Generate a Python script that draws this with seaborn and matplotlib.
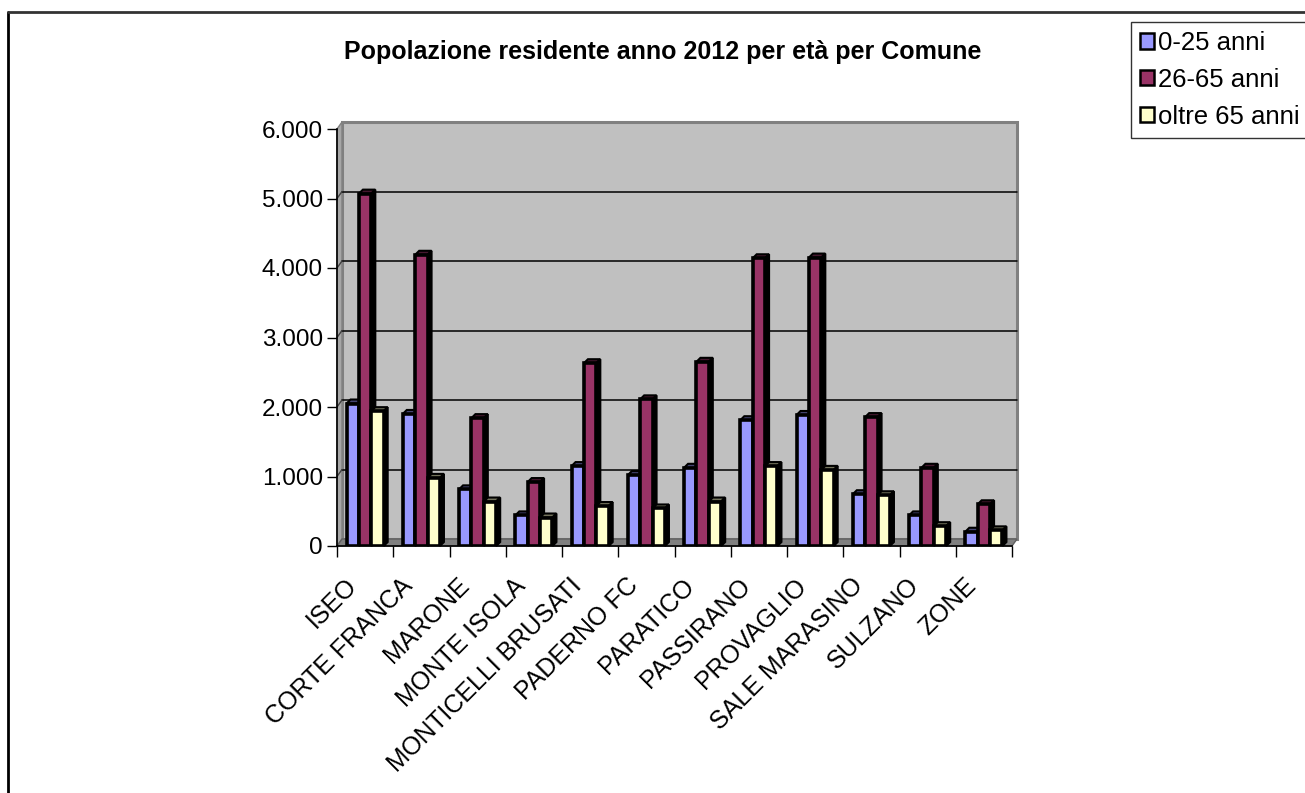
import numpy as np
import pandas as pd
import matplotlib
matplotlib.use("Agg")
import matplotlib.pyplot as plt
import matplotlib.transforms as mtransforms
from matplotlib.patches import Polygon, Rectangle
from matplotlib.lines import Line2D
from matplotlib.ticker import FuncFormatter, FixedLocator
import seaborn as sns

comuni = ["ISEO", "CORTE FRANCA", "MARONE", "MONTE ISOLA", "MONTICELLI BRUSATI",
          "PADERNO FC", "PARATICO", "PASSIRANO", "PROVAGLIO", "SALE MARASINO",
          "SULZANO", "ZONE"]
fasce = ["0-25 anni", "26-65 anni", "oltre 65 anni"]
giovani = [2050, 1900, 815, 440, 1150, 1020, 1125, 1810, 1885, 745, 440, 205]
adulti = [5070, 4190, 1840, 920, 2630, 2110, 2650, 4140, 4150, 1855, 1125, 600]
anziani = [1940, 980, 640, 410, 575, 540, 640, 1150, 1095, 730, 285, 225]
colori = ["#9999FF", "#993366", "#FFFFCC"]
yticks = [0, 1000, 2000, 3000, 4000, 5000, 6000]

df = pd.DataFrame({
    "Comune": comuni * 3,
    "Fascia": [fasce[0]] * 12 + [fasce[1]] * 12 + [fasce[2]] * 12,
    "Valore": giovani + adulti + anziani,
})

sns.set_theme(style="white")
plt.rcParams["font.family"] = ["Liberation Sans", "DejaVu Sans"]

W, H = 1305, 793
fig = plt.figure(figsize=(W / 100, H / 100), dpi=100)
fig.patch.set_facecolor("white")

# front plane of the 3D box, in pixel coordinates
x0, x1, ytop, ybot = 337, 1012, 129, 546
ax = fig.add_axes([x0 / W, 1 - ybot / H, (x1 - x0) / W, (ybot - ytop) / H])
ax.set_facecolor("none")
ax.set_zorder(2)

sns.barplot(data=df, x="Comune", y="Valore", hue="Fascia", palette=colori,
            width=0.66, saturation=1, edgecolor="black", linewidth=2.6,
            legend=False, ax=ax, zorder=3)

ax.set_xlim(-0.5, len(comuni) - 0.5)
ax.set_ylim(0, 6000)
ax.set_xlabel("")
ax.set_ylabel("")

# y axis
ax.yaxis.set_major_locator(FixedLocator(yticks))
ax.yaxis.set_major_formatter(FuncFormatter(lambda v, p: f"{v:,.0f}".replace(",", ".")))
ax.tick_params(axis="y", length=7, width=1, color="black", labelsize=17.5, pad=3,
               left=True, labelcolor="black")
# x axis: labels at centres, tick marks between categories
ax.set_xticks(range(len(comuni)))
ax.set_xticklabels(comuni, rotation=45, ha="right", va="center",
                   rotation_mode="anchor", fontsize=18, color="black")
ax.tick_params(axis="x", length=0, pad=26)
ax.set_xticks(np.arange(-0.5, len(comuni) + 0.5, 1), minor=True)
ax.tick_params(axis="x", which="minor", length=8, width=1, color="black", bottom=True)

for side in ["top", "right"]:
    ax.spines[side].set_visible(False)
for side in ["left", "bottom"]:
    ax.spines[side].set_color("black")
    ax.spines[side].set_linewidth(1.2)

fig.canvas.draw()
T = ax.transData
PIX = mtransforms.IdentityTransform()
dx, dy = 5, 7  # depth of the box


def px(x, y):
    return T.transform((x, y))


xa, xb = ax.get_xlim()
bl = px(xa, 0)
br = px(xb, 0)
tl = px(xa, 6000)
tr = px(xb, 6000)

# back wall
fig.add_artist(Polygon([bl + [dx, dy], br + [dx, dy], tr + [dx, dy], tl + [dx, dy]],
                       closed=True, transform=PIX, facecolor="#C0C0C0",
                       edgecolor="#808080", linewidth=2.2, zorder=0.5))
# left side wall
fig.add_artist(Polygon([bl, bl + [dx, dy], tl + [dx, dy], tl], closed=True, transform=PIX,
                       facecolor="#A6A6A6", edgecolor="#808080", linewidth=1, zorder=0.6))
# floor
fig.add_artist(Polygon([bl, br, br + [dx, dy], bl + [dx, dy]], closed=True, transform=PIX,
                       facecolor="#808080", edgecolor="#606060", linewidth=1, zorder=0.6))
# gridlines on the back wall, with the small diagonal links to the front axis
for v in yticks[1:-1]:
    a = px(xa, v)
    b = px(xb, v)
    fig.add_artist(Line2D([a[0] + dx, b[0] + dx], [a[1] + dy, b[1] + dy],
                          transform=PIX, color="black", linewidth=1.1, zorder=0.7))
    fig.add_artist(Line2D([a[0], a[0] + dx], [a[1], a[1] + dy],
                          transform=PIX, color="#404040", linewidth=1, zorder=0.7))

# top and side faces of each column
for patch in list(ax.patches):
    h = patch.get_height()
    if not np.isfinite(h) or h <= 0:
        continue
    fc = np.array(patch.get_facecolor()[:3])
    bx0, by0 = patch.get_x(), patch.get_y()
    bx1, by1 = bx0 + patch.get_width(), by0 + h
    p00 = px(bx0, by1)
    p10 = px(bx1, by1)
    p_b = px(bx1, by0)
    ax.add_patch(Polygon([p00, p10, p10 + [4, 4], p00 + [4, 4]], closed=True,
                         transform=PIX, clip_on=False, facecolor=fc * 0.45,
                         edgecolor="black", linewidth=1.5, zorder=2.9))
    ax.add_patch(Polygon([p10, p_b, p_b + [4, 4], p10 + [4, 4]], closed=True,
                         transform=PIX, clip_on=False, facecolor="black",
                         edgecolor="black", linewidth=1.5, zorder=2.9))

# shift the category labels a little to the left
shift = mtransforms.ScaledTranslation(-12 / 100, 0, fig.dpi_scale_trans)
for lbl in ax.get_xticklabels():
    lbl.set_transform(lbl.get_transform() + shift)

# title
fig.text(663 / W, 1 - 52 / H, "Popolazione residente anno 2012 per età per Comune",
         ha="center", va="center", fontsize=18, fontweight="bold", color="black")

# legend
handles = [Rectangle((0, 0), 1, 1, facecolor=c, edgecolor="black", linewidth=1.8)
           for c in colori]
leg = fig.legend(handles, fasce, loc="upper left",
                 bbox_to_anchor=(1131 / W, 1 - 22 / H), fontsize=18.5,
                 frameon=True, fancybox=False, handlelength=0.55, handleheight=0.55,
                 handletextpad=0.15, labelspacing=0.5, borderpad=0.35,
                 borderaxespad=0, edgecolor="black")
leg.get_frame().set_linewidth(1)
for t in leg.get_texts():
    t.set_color("black")

# chart border
fig.add_artist(Line2D([8 / W, 8 / W], [0, 1 - 12 / H], transform=fig.transFigure,
                      color="black", linewidth=2))
fig.add_artist(Line2D([8 / W, 1], [1 - 12 / H, 1 - 12 / H], transform=fig.transFigure,
                      color="#333333", linewidth=2))

fig.savefig("out.png", dpi=100)
